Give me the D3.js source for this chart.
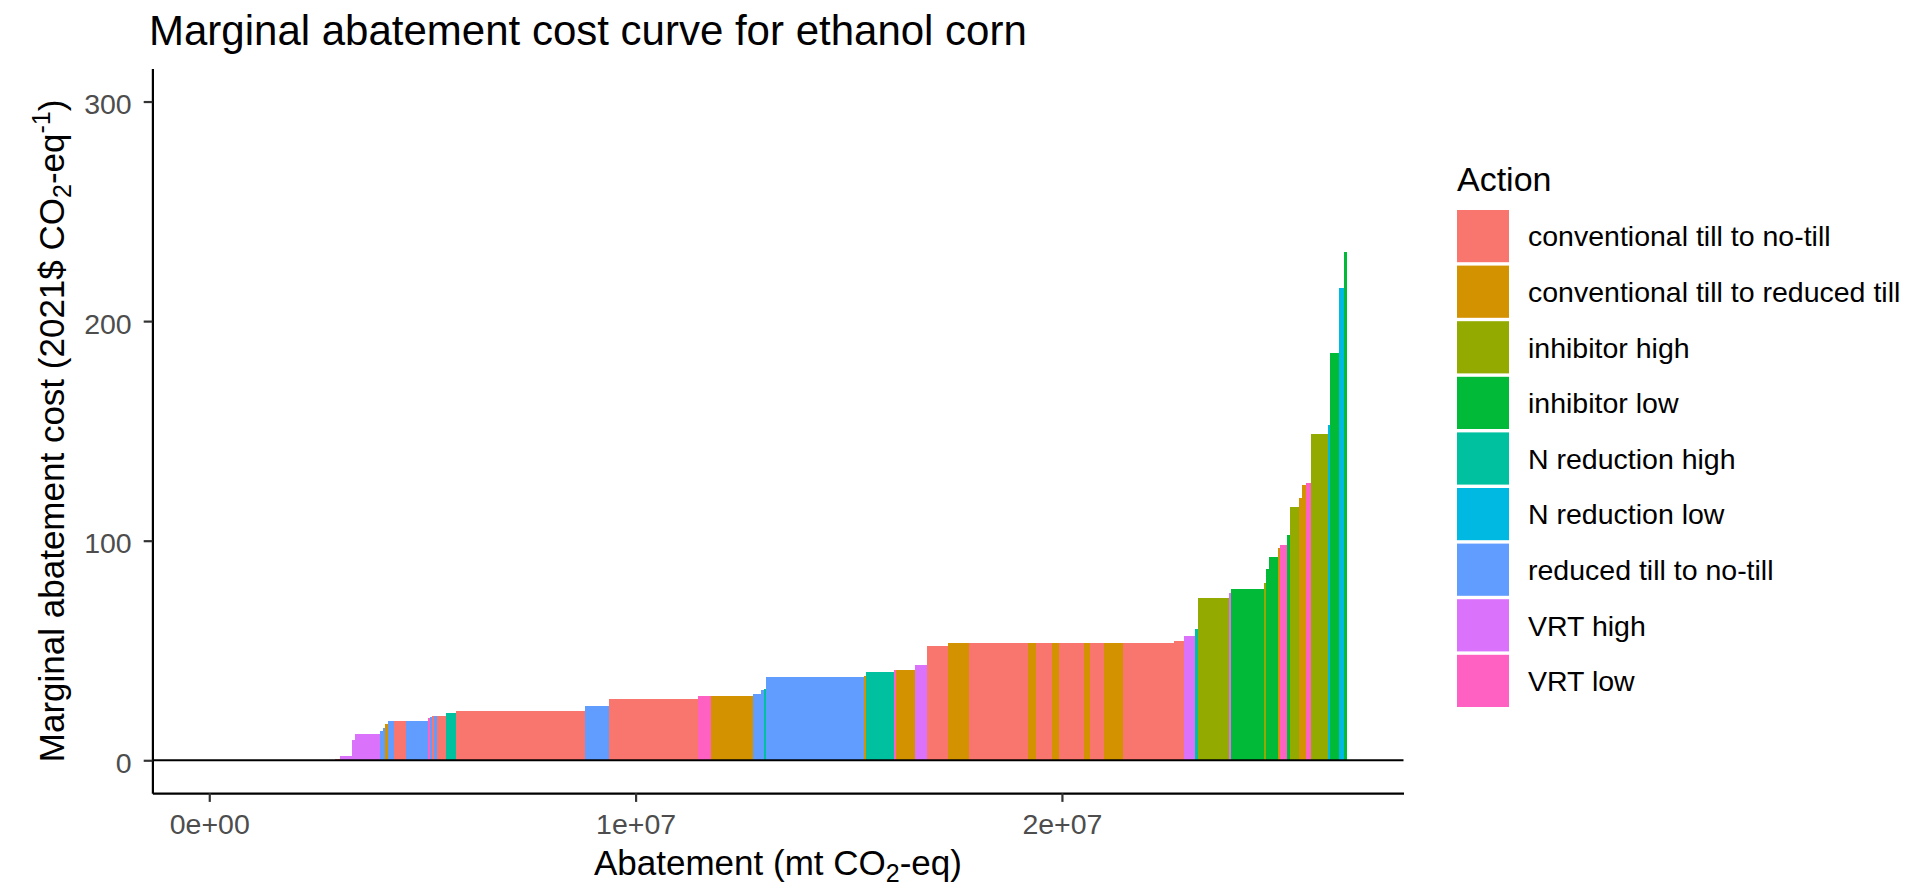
<!DOCTYPE html>
<html>
<head>
<meta charset="utf-8">
<script src="https://cdn.jsdelivr.net/npm/d3@7"></script>
<style>
  body { margin: 0; background: #ffffff; }
  svg { display: block; font-family: "Liberation Sans", Arial, sans-serif; }
</style>
</head>
<body>
<svg id="chart" width="1909" height="886"></svg>
<script>
// Abatement actions (legend order) and their fill colours
const actionLevels = [
  "conventional till to no-till",
  "conventional till to reduced till",
  "inhibitor high",
  "inhibitor low",
  "N reduction high",
  "N reduction low",
  "reduced till to no-till",
  "VRT high",
  "VRT low"
];
const actionColors = ["#F8766D", "#D39200", "#93AA00", "#00BA38", "#00C19F", "#00B9E3", "#619CFF", "#DB72FB", "#FF61C3"];

const CT_NT = actionLevels[0], CT_RT = actionLevels[1], INH_H = actionLevels[2], INH_L = actionLevels[3];
const NR_H = actionLevels[4], NR_L = actionLevels[5], RT_NT = actionLevels[6], VRT_H = actionLevels[7], VRT_L = actionLevels[8];

// One entry per block of the curve, sorted by cost.
// barEnd = cumulative abatement at the right edge of the block (mt CO2-eq)
const barAction = [
  CT_NT, CT_NT, VRT_H, VRT_H, VRT_H, RT_NT, RT_NT, CT_RT, RT_NT, CT_NT,
  RT_NT, VRT_L, RT_NT, CT_NT, RT_NT, CT_NT, NR_H, CT_NT, RT_NT, CT_NT,
  VRT_L, CT_RT, RT_NT, RT_NT, NR_H, RT_NT, CT_RT, NR_H, VRT_L, CT_RT,
  VRT_H, CT_NT, CT_RT, CT_NT, CT_RT, CT_NT, CT_RT, CT_NT, CT_RT, CT_NT,
  CT_RT, CT_NT, CT_NT, VRT_H, NR_H, INH_H, VRT_H, INH_L, INH_H, INH_L,
  INH_L, CT_RT, VRT_L, INH_L, INH_H, CT_RT, CT_RT, VRT_L, INH_H, NR_L,
  INH_L, NR_L, INH_L
];
const barEnd = [
  2.942e6, 3.078e6, 3.347e6, 3.418e6, 4.002e6, 4.065e6, 4.129e6, 4.183e6, 4.335e6, 4.612e6,
  5.123e6, 5.172e6, 5.231e6, 5.278e6, 5.348e6, 5.545e6, 5.789e6, 8.822e6, 9.371e6, 11.471e6,
  11.759e6, 12.754e6, 12.953e6, 13.014e6, 13.068e6, 15.348e6, 15.402e6, 16.069e6, 16.108e6, 16.561e6,
  16.836e6, 17.328e6, 17.828e6, 19.205e6, 19.383e6, 19.759e6, 19.939e6, 20.525e6, 20.650e6, 20.978e6,
  21.424e6, 22.637e6, 22.855e6, 23.129e6, 23.188e6, 23.910e6, 23.969e6, 24.748e6, 24.795e6, 24.849e6,
  25.069e6, 25.107e6, 25.280e6, 25.341e6, 25.569e6, 25.632e6, 25.733e6, 25.850e6, 26.233e6, 26.280e6,
  26.507e6, 26.608e6, 26.678e6
];
// Marginal abatement cost of each block (2021$ per t CO2-eq)
const barCost = [
  0, 0.8, 1.9, 9.4, 12.1, 13.4, 14.6, 16.5, 17.8, 17.8,
  17.8, 19.2, 19.6, 20.0, 20.0, 20.0, 21.5, 22.3, 24.7, 27.8,
  29.1, 29.1, 30.3, 32.2, 32.5, 38.0, 38.5, 40.1, 41.0, 41.3,
  43.5, 51.9, 53.2, 53.2, 53.2, 53.2, 53.2, 53.2, 53.2, 53.2,
  53.2, 53.2, 54.3, 56.5, 59.8, 73.8, 76.2, 78.2, 80.8, 86.9,
  92.5, 96.8, 98.0, 102.4, 115.4, 119.6, 125.2, 126.4, 148.4, 152.8,
  185.6, 215.0, 231.3
];

const xTicks = [0, 1e7, 2e7];
const xTickLabels = ["0e+00", "1e+07", "2e+07"];
const yTicks = [0, 100, 200, 300];
const yLimits = [0, 300];

// ---- layout ----
const W = 1909, H = 886;
const panel = { left: 152.4, right: 1403.5, top: 68.6, bottom: 793.2 };

const bars = barEnd.map((end, i) => ({
  start: i === 0 ? 0 : barEnd[i - 1],
  end: end,
  cost: barCost[i],
  action: barAction[i]
}));

// ggplot-style 5% expansion on both scales
function expand(lo, hi) { const d = (hi - lo) * 0.05; return [lo - d, hi + d]; }

const x = d3.scaleLinear()
  .domain(expand(0, d3.max(barEnd)))
  .range([panel.left, panel.right]);
const y = d3.scaleLinear()
  .domain(expand(yLimits[0], yLimits[1]))
  .range([panel.bottom, panel.top]);
const color = d3.scaleOrdinal().domain(actionLevels).range(actionColors);

const svg = d3.select("#chart");
svg.append("rect").attr("width", W).attr("height", H).attr("fill", "#ffffff");

// ---- blocks ----
svg.append("g")
  .selectAll("rect")
  .data(bars)
  .join("rect")
  .attr("x", d => x(d.start))
  .attr("width", d => Math.max(0, x(d.end) - x(d.start)))
  .attr("y", d => y(d.cost))
  .attr("height", d => y(0) - y(d.cost))
  .attr("fill", d => color(d.action))
  .attr("shape-rendering", "crispEdges");

// zero reference line across the panel
svg.append("line")
  .attr("x1", panel.left).attr("x2", panel.right)
  .attr("y1", y(0)).attr("y2", y(0))
  .attr("stroke", "#000000").attr("stroke-width", 2.2);

// ---- axes ----
const tickLen = 8.7;
const xAxis = d3.axisBottom(x)
  .tickValues(xTicks)
  .tickFormat((d, i) => xTickLabels[i])
  .tickSizeInner(tickLen).tickSizeOuter(0).tickPadding(12);
const yAxis = d3.axisLeft(y)
  .tickValues(yTicks)
  .tickFormat(d3.format("d"))
  .tickSizeInner(tickLen).tickSizeOuter(0).tickPadding(12);

function styleAxis(g) {
  g.select(".domain").attr("stroke", "#000000").attr("stroke-width", 2.2);
  g.selectAll(".tick line").attr("stroke", "#333333").attr("stroke-width", 2.2);
  g.selectAll(".tick text")
    .attr("fill", "#4D4D4D")
    .style("font-size", "28.5px")
    .style("font-family", "'Liberation Sans', Arial, sans-serif");
}

svg.append("g")
  .attr("transform", `translate(0,${panel.bottom})`)
  .call(xAxis)
  .call(styleAxis);

const gy = svg.append("g")
  .attr("transform", `translate(${panel.left},0)`)
  .call(yAxis)
  .call(styleAxis);
gy.selectAll(".tick text").attr("dy", "0.42em");

// ---- titles ----
svg.append("text")
  .attr("x", 149).attr("y", 45)
  .attr("font-size", 42).attr("fill", "#000000")
  .text("Marginal abatement cost curve for ethanol corn");

const xTitle = svg.append("text")
  .attr("x", (panel.left + panel.right) / 2).attr("y", 875)
  .attr("text-anchor", "middle")
  .attr("font-size", 35).attr("fill", "#000000");
xTitle.append("tspan").text("Abatement (mt CO");
xTitle.append("tspan").attr("font-size", 25).attr("dy", 7).text("2");
xTitle.append("tspan").attr("dy", -7).text("-eq)");

const yTitle = svg.append("text")
  .attr("transform", `translate(64,${(panel.top + panel.bottom) / 2}) rotate(-90)`)
  .attr("text-anchor", "middle")
  .attr("font-size", 35).attr("fill", "#000000");
yTitle.append("tspan").text("Marginal abatement cost (2021$ CO");
yTitle.append("tspan").attr("font-size", 25).attr("dy", 7).text("2");
yTitle.append("tspan").attr("dy", -7).text("-eq");
yTitle.append("tspan").attr("font-size", 25).attr("dy", -14).text("-1");
yTitle.append("tspan").attr("dy", 14).text(")");

// ---- legend ----
const legend = svg.append("g").attr("transform", "translate(1457,0)");
legend.append("text")
  .attr("x", 0).attr("y", 191)
  .attr("font-size", 34).attr("fill", "#000000")
  .text("Action");

const keyTop = 210, keyStep = 55.6, keyW = 52, keyH = 52.2;
const items = legend.selectAll("g.item")
  .data(actionLevels)
  .join("g")
  .attr("class", "item")
  .attr("transform", (d, i) => `translate(0,${keyTop + i * keyStep})`);
items.append("rect")
  .attr("width", keyW).attr("height", keyH)
  .attr("fill", d => color(d));
items.append("text")
  .attr("x", 71).attr("y", keyH / 2)
  .attr("dy", "0.36em")
  .attr("font-size", 28.5).attr("fill", "#000000")
  .text(d => d);
</script>
</body>
</html>
